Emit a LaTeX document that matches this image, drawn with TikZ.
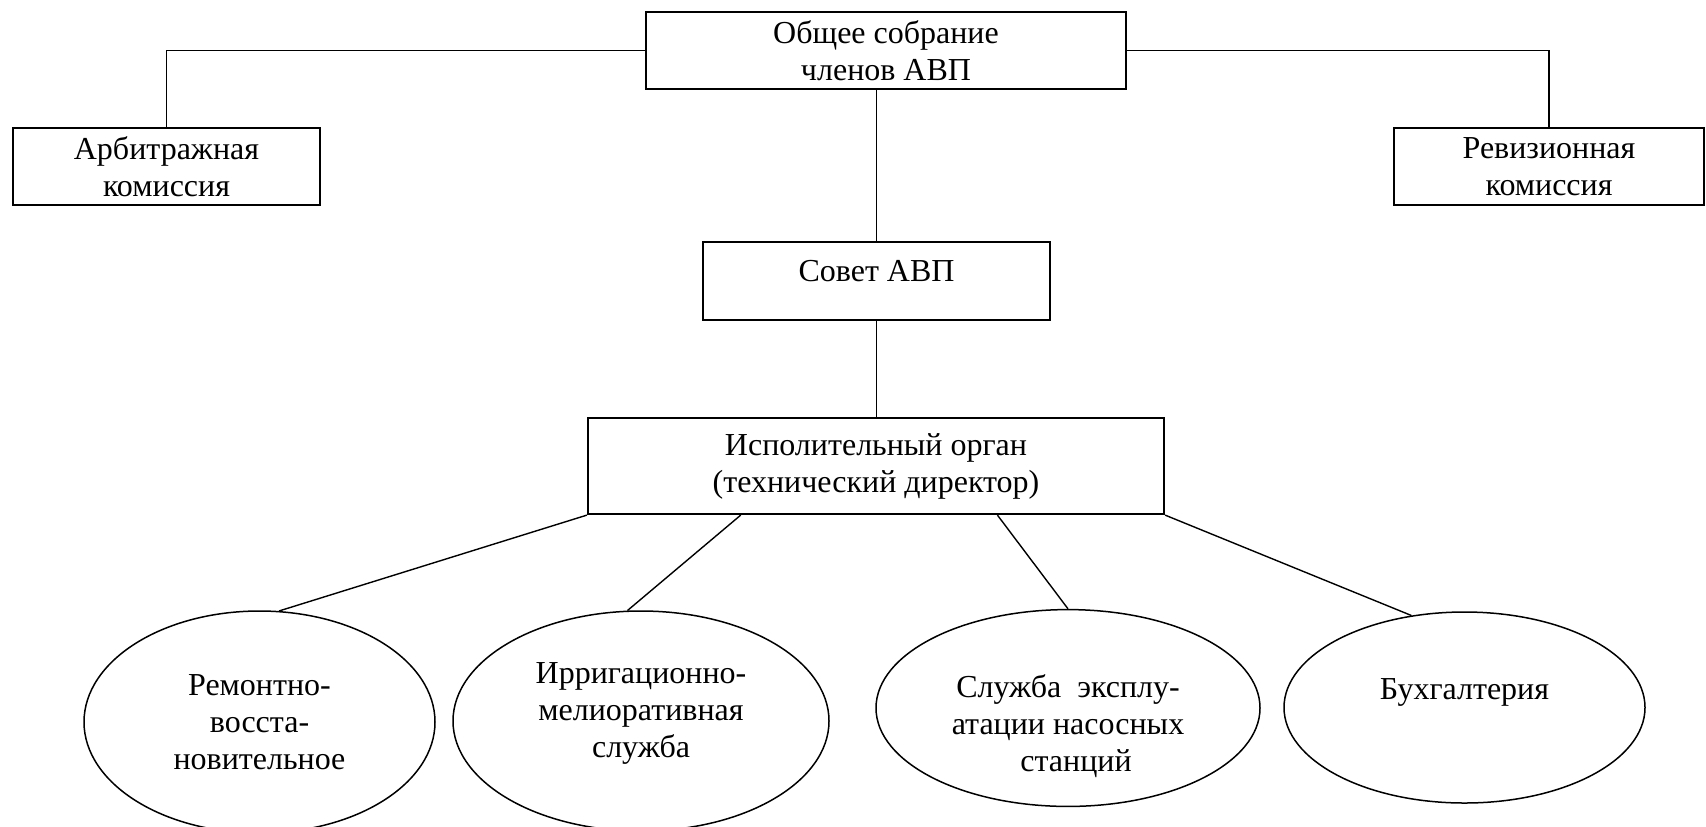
\documentclass[tikz,border=0pt]{standalone}
\usepackage{fontspec}
\setmainfont{Liberation Serif}
\usetikzlibrary{shapes.geometric,calc}
\begin{document}
\begin{tikzpicture}[x=0.5pt,y=-0.5pt,
  every node/.style={font=\fontsize{16}{18.5}\selectfont, align=center},
  box/.style={draw, line width=1.1pt, rectangle, inner sep=0pt},
  oval/.style={draw, line width=0.75pt, ellipse, inner sep=0pt},
  link/.style={line width=0.7pt}]
\clip (0,0) rectangle (1706,826);
\fill[white] (0,0) rectangle (1706,826);
\node[box, minimum width=240pt, minimum height=38.5pt] (top) at (886,50.5) {Общее собрание\\членов АВП};
\node[box, minimum width=153.5pt, minimum height=38.5pt] (arb) at (166.5,166.5) {Арбитражная\\комиссия};
\node[box, minimum width=155pt, minimum height=38.5pt] (rev) at (1549,166.5) {Ревизионная\\комиссия};
\node[box, minimum width=173.5pt, minimum height=39pt, text height=11pt, text depth=11pt] (sov) at (876.5,281) {Совет АВП};
\node[box, minimum width=288pt, minimum height=48pt] (isp) at (876,466) {Исполительный орган\\(технический директор)};
\node[oval, minimum width=175.5pt, minimum height=111pt] (e1) at (259.5,722) {Ремонтно-\\восста-\\новительное};
\node[oval, minimum width=188pt, minimum height=110pt] (e2) at (641,721) {Ирригационно-\\мелиоративная\\служба\\[-7.5pt]\mbox{}};
\node[oval, minimum width=192pt, minimum height=96pt] (e3) at (1068,708) {\mbox{}\\[11pt]Служба\ \ эксплу-\\атации насосных\\\hspace*{8pt}станций};
\node[oval, minimum width=180.5pt, minimum height=95.5pt] (e4) at (1464.5,707.5) {Бухгалтерия\\\mbox{}};
\draw[link] (top.west) -| (arb.north);
\draw[link] (top.east) -| (rev.north);
\draw[link] (sov.north |- top.south) -- (sov.north);
\draw[link] (sov.south) -- (sov.south |- isp.north);
\draw[link] (isp.south west) -- (e1.80);
\draw[link] ($(isp.south west)!0.266!(isp.south east)$) -- (e2.97);
\draw[link] ($(isp.south west)!0.71!(isp.south east)$) -- (e3.north);
\draw[link] (isp.south east) -- (e4.120);
\end{tikzpicture}
\end{document}
